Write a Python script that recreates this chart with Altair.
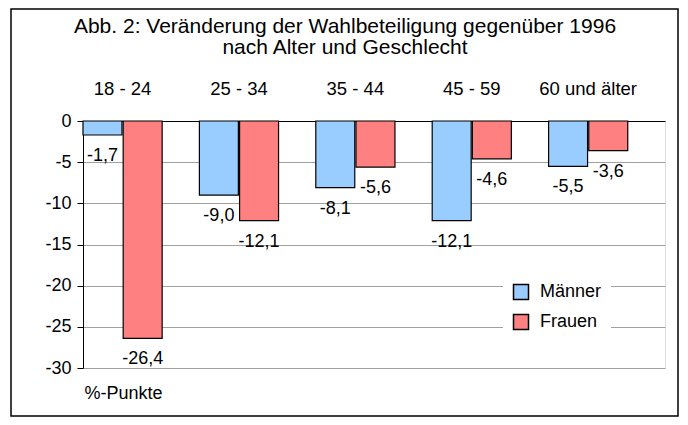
import altair as alt
import pandas as pd

categories = ["18 - 24", "25 - 34", "35 - 44", "45 - 59", "60 und älter"]
series = ["Männer", "Frauen"]
maenner = [-1.7, -9.0, -8.1, -12.1, -5.5]
frauen = [-26.4, -12.1, -5.6, -4.6, -3.6]
colors = ["#99CCFF", "#FF8080"]
y_ticks = [0, -5, -10, -15, -20, -25, -30]

rows = []
for c, m, f in zip(categories, maenner, frauen):
    rows.append({"Alter": c, "Geschlecht": "Männer", "Wert": m})
    rows.append({"Alter": c, "Geschlecht": "Frauen", "Wert": f})
df = pd.DataFrame(rows)

W, H = 582, 247
FONT = "Liberation Sans"

x_enc = alt.X("Alter:N", sort=categories,
              scale=alt.Scale(paddingInner=0.32, paddingOuter=0.16, align=0),
              axis=alt.Axis(orient="top", title=None, labelAngle=0, labelFontSize=18.5,
                            labelPadding=23, tickSize=0, ticks=False, domain=True,
                            domainColor="#000000", labelColor="#000000", labelFont=FONT))
xoff = alt.XOffset("Geschlecht:N", sort=series, scale=alt.Scale(paddingInner=0.03))
y_enc = alt.Y("Wert:Q", scale=alt.Scale(domain=[-30, 0], nice=False),
              axis=alt.Axis(values=y_ticks, labelExpr="toString(datum.value)",
                            title="%-Punkte", titleAngle=0, titleX=1, titleY=H + 25,
                            titleAlign="left", titleBaseline="middle", titleFontSize=18,
                            titleFontWeight="normal", titleFont=FONT, titleColor="#000000",
                            labelFontSize=18, labelFont=FONT, labelColor="#000000",
                            tickSize=6, tickColor="#000000", labelPadding=6,
                            domainColor="#000000", gridColor="#A0A0A0"))

bars = alt.Chart(df).mark_bar(stroke="#000000", strokeWidth=1.2).encode(
    x=x_enc, xOffset=xoff, y=y_enc,
    color=alt.Color("Geschlecht:N", sort=series,
                    scale=alt.Scale(domain=series, range=colors),
                    legend=alt.Legend(title=None, orient="none", legendX=420, legendY=153,
                                      fillColor="#FFFFFF", padding=9, symbolType="square",
                                      symbolSize=225, symbolStrokeColor="#000000",
                                      symbolStrokeWidth=1.5, labelFontSize=18, labelFont=FONT,
                                      labelColor="#000000", labelOffset=10, rowPadding=8)),
)

labels = alt.Chart(df).transform_calculate(
    txt="replace(replace(format(datum.Wert, '.1f'), '.', ','), '\u2212', '-')"
).mark_text(fontSize=18, font=FONT, color="#000000", baseline="middle", dy=21).encode(
    x=alt.X("Alter:N", sort=categories), xOffset=alt.XOffset("Geschlecht:N", sort=series),
    y="Wert:Q", text="txt:N",
)

frame = alt.Chart(pd.DataFrame({"a": [0]})).mark_rect(
    fill=None, stroke="#000000", strokeWidth=1.5
).encode(x=alt.value(-72), x2=alt.value(595), y=alt.value(-112), y2=alt.value(295))

chart = alt.layer(bars, labels, frame).properties(
    width=W, height=H,
    padding={"left": 75, "top": 113, "right": 15, "bottom": 49},
    autosize=alt.AutoSizeParams(type="none"),
    title=alt.TitleParams(
        text=["Abb. 2: Veränderung der Wahlbeteiligung gegenüber 1996",
              "nach Alter und Geschlecht"],
        fontSize=21, font=FONT, fontWeight="normal", color="#000000",
        lineHeight=21, anchor="middle", dx=-29, dy=60, offset=10),
).configure_view(stroke="#000000", strokeWidth=1).configure(background="#FFFFFF")

chart.save("out.html", embed_options={"renderer": "svg", "actions": False})
